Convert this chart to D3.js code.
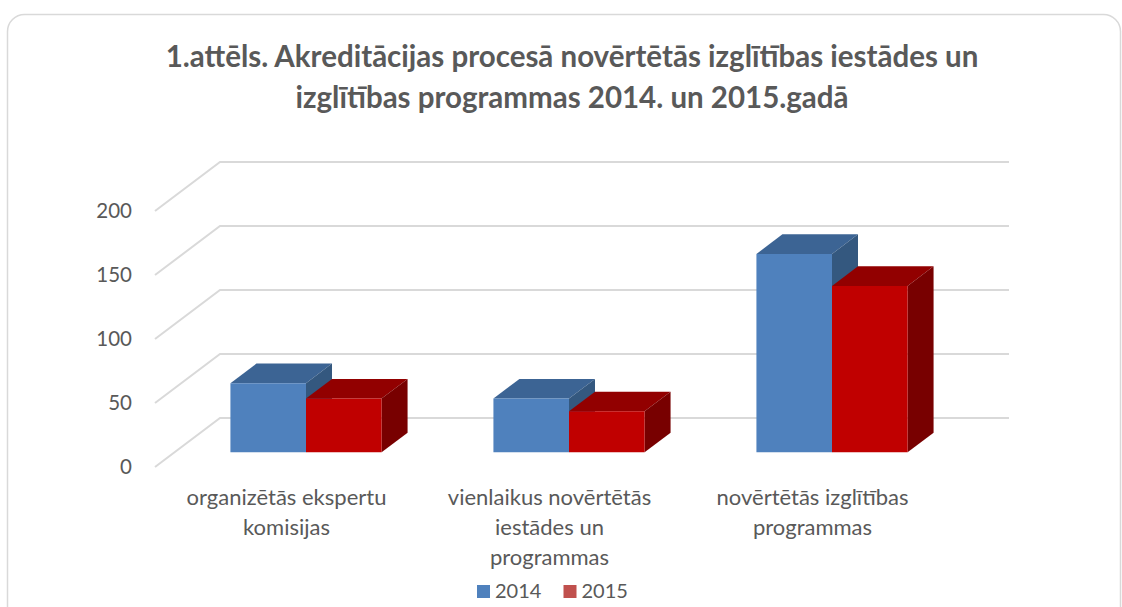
<!DOCTYPE html>
<html>
<head>
<meta charset="utf-8">
<script src="https://cdn.jsdelivr.net/npm/d3@7"></script>
<style>
  body { margin: 0; background: #fff; }
  text { font-family: Lato, "Open Sans", sans-serif; fill: #595959; }
</style>
</head>
<body>
<div id="chart"></div>
<script>
// data
let categories = ["organizētās ekspertu komisijas", "vienlaikus novērtētās iestādes un programmas", "novērtētās izglītības programmas"];
let categoryLines = [["organizētās ekspertu", "komisijas"], ["vienlaikus novērtētās", "iestādes un", "programmas"], ["novērtētās izglītības", "programmas"]];
let series = ["2014", "2015"];
let values2014 = [54, 42, 155];
let values2015 = [42, 32, 130];
let yTicks = [0, 50, 100, 150, 200];
let titleLines = ["1.attēls. Akreditācijas procesā novērtētās izglītības iestādes un", "izglītības programmas 2014. un 2015.gadā"];

let svgWidth = 1122;
let svgHeight = 607;

// front plane of the 3d box
let front = { left: 155, right: 944, zero: 467 };
// depth of the whole box
let depth = { dx: 65, dy: -49 };
// bar sits between these depth fractions
let barDepth = [0.3, 0.7];

let colors = {
    "2014": { front: "#4f81bd", top: "#3c6494", side: "#34587f", legend: "#4f81bd" },
    "2015": { front: "#c00000", top: "#920000", side: "#780000", legend: "#c0504d" }
};

let svg = d3.select("#chart")
    .append("svg")
    .attr("width", svgWidth)
    .attr("height", svgHeight);

svg.append("rect")
    .attr("width", svgWidth)
    .attr("height", svgHeight)
    .attr("fill", "#fff");

// chart border
svg.append("rect")
    .attr("x", 7.5)
    .attr("y", 14.5)
    .attr("width", 1113)
    .attr("height", 640)
    .attr("rx", 17)
    .attr("fill", "none")
    .attr("stroke", "#d9d9d9")
    .attr("stroke-width", 1.5);

// title
let title = svg.append("text")
    .attr("text-anchor", "middle")
    .attr("font-size", "29.5px")
    .attr("font-weight", "bold");

titleLines.forEach(function (line, i) {
    title.append("tspan")
        .attr("x", 572)
        .attr("y", 67 + i * 41)
        .text(line);
});

// scales
let yScale = d3.scaleLinear()
    .domain([0, 200])
    .range([0, 256]);

let xScale = d3.scaleBand()
    .domain(categories)
    .range([front.left, front.right]);

let xInner = d3.scaleBand()
    .domain(series)
    .range([0, xScale.bandwidth()])
    .paddingOuter(0.74);

// project a point (x on front plane, value, depth fraction) to screen
function project(x, v, d) {
    return [x + d * depth.dx, front.zero - yScale(v) + d * depth.dy];
}

// gridlines: a diagonal on the left side wall and a line across the back wall
let grid = svg.append("g")
    .attr("stroke", "#d9d9d9")
    .attr("stroke-width", 2)
    .attr("fill", "none");

grid.selectAll("path")
    .data(yTicks)
    .enter()
    .append("path")
    .attr("d", function (t) {
        let a = project(front.left, t, 0);
        let b = project(front.left, t, 1);
        let c = project(front.right, t, 1);
        return d3.line()([a, b, c]);
    });

// tick labels
svg.append("g")
    .selectAll("text")
    .data(yTicks)
    .enter()
    .append("text")
    .attr("x", 132)
    .attr("y", d => front.zero - yScale(d))
    .attr("dy", "0.35em")
    .attr("text-anchor", "end")
    .attr("font-size", "20.5px")
    .text(d => d);

// bars
let barData = [];
categories.forEach(function (c, i) {
    barData.push({ cat: c, key: "2014", value: values2014[i] });
    barData.push({ cat: c, key: "2015", value: values2015[i] });
});

function face(points) {
    return d3.line()(points) + "Z";
}

let bars = svg.append("g")
    .selectAll("g")
    .data(barData)
    .enter()
    .append("g");

bars.each(function (d) {
    let g = d3.select(this);
    let x0 = xScale(d.cat) + xInner(d.key);
    let x1 = x0 + xInner.bandwidth();
    let d0 = barDepth[0];
    let d1 = barDepth[1];
    let col = colors[d.key];

    // top face
    g.append("path")
        .attr("d", face([project(x0, d.value, d0), project(x0, d.value, d1), project(x1, d.value, d1), project(x1, d.value, d0)]))
        .attr("fill", col.top);
    // right side face
    g.append("path")
        .attr("d", face([project(x1, 0, d0), project(x1, d.value, d0), project(x1, d.value, d1), project(x1, 0, d1)]))
        .attr("fill", col.side);
    // front face
    g.append("path")
        .attr("d", face([project(x0, 0, d0), project(x0, d.value, d0), project(x1, d.value, d0), project(x1, 0, d0)]))
        .attr("fill", col.front);
});

// category labels, centred on the front plane
let catLabels = svg.append("g")
    .selectAll("text")
    .data(categories)
    .enter()
    .append("text")
    .attr("text-anchor", "middle")
    .attr("font-size", "22px");

catLabels.each(function (c, i) {
    let t = d3.select(this);
    categoryLines[i].forEach(function (line, j) {
        t.append("tspan")
            .attr("x", xScale(c) + xScale.bandwidth() / 2)
            .attr("y", 505 + j * 30)
            .text(line);
    });
});

// legend
let legend = svg.append("g")
    .attr("transform", "translate(477, 585)");

let legendItems = legend.selectAll("g")
    .data(series)
    .enter()
    .append("g")
    .attr("transform", (d, i) => `translate(${i * 86.5}, 0)`);

legendItems.append("rect")
    .attr("width", 13)
    .attr("height", 13)
    .attr("fill", d => colors[d].legend);

legendItems.append("text")
    .attr("x", 18)
    .attr("y", 13)
    .attr("font-size", "20px")
    .text(d => d);
</script>
</body>
</html>
